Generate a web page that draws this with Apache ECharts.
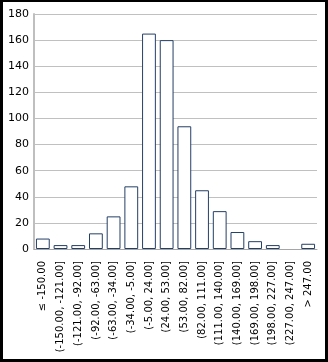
<!DOCTYPE html>
<html>
<head>
<meta charset="utf-8">
<script src="https://cdn.jsdelivr.net/npm/echarts@6/dist/echarts.min.js"></script>
<style>
  html, body { margin: 0; padding: 0; background: #000; }
  #frame { position: absolute; left: 3px; top: 2px; width: 322px; height: 357px; background: #fff; }
  #chart { width: 322px; height: 357px; }
</style>
</head>
<body>
<div id="frame"><div id="chart"></div></div>
<script>
// Histogram bins and their counts
const binLabels = [
  '≤ -150.00', '(-150.00, -121.00]', '(-121.00, -92.00]', '(-92.00, -63.00]',
  '(-63.00, -34.00]', '(-34.00, -5.00]', '(-5.00, 24.00]', '(24.00, 53.00]',
  '(53.00, 82.00]', '(82.00, 111.00]', '(111.00, 140.00]', '(140.00, 169.00]',
  '(169.00, 198.00]', '(198.00, 227.00]', '(227.00, 247.00]', '> 247.00'
];
const binCounts = [8, 3, 3, 12, 25, 48, 165, 160, 94, 45, 29, 13, 6, 3, 0, 4];
const yTicks = { min: 0, max: 180, interval: 20 };

// Empty bins get no outline, so nothing is drawn for them
const barData = binCounts.map(v => ({
  value: v,
  itemStyle: v === 0 ? { borderWidth: 0, color: 'transparent' } : undefined
}));

const chart = echarts.init(document.getElementById('chart'), null, { renderer: 'canvas' });
chart.setOption({
  animation: false,
  grid: { left: 31, right: 8, top: 12, bottom: 110, containLabel: false },
  xAxis: {
    type: 'category',
    data: binLabels,
    axisLine: { show: true, lineStyle: { color: '#a6a6a6', width: 1 } },
    axisTick: { show: false },
    axisLabel: {
      interval: 0, rotate: 90, margin: 12,
      fontFamily: 'DejaVu Sans', fontSize: 10, color: '#000'
    }
  },
  yAxis: {
    type: 'value',
    min: yTicks.min, max: yTicks.max, interval: yTicks.interval,
    axisLine: { show: true, lineStyle: { color: '#bfbfbf', width: 2 } },
    axisTick: { show: false },
    splitLine: { show: true, lineStyle: { color: '#c0c0c0', width: 1 } },
    axisLabel: { margin: 5, fontFamily: 'DejaVu Sans', fontSize: 11, color: '#000' }
  },
  series: [{
    type: 'bar',
    data: barData,
    barCategoryGap: '22%',
    itemStyle: { color: '#ffffff', borderColor: '#243f66', borderWidth: 1 }
  }]
});
</script>
</body>
</html>
